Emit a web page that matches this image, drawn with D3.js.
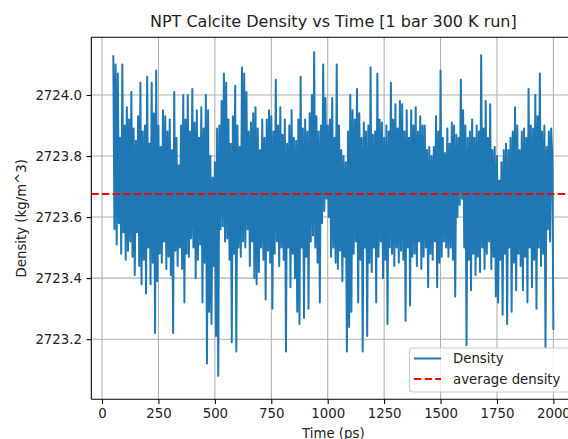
<!DOCTYPE html>
<html>
<head>
<meta charset="utf-8">
<script src="https://cdn.jsdelivr.net/npm/d3@7"></script>
<style>
  body { margin: 0; background: #fff; overflow: hidden; }
  svg { display: block; font-family: "DejaVu Sans", sans-serif; }
</style>
</head>
<body>
<div id="main"></div>
<script>
// time axis: one sample every 5 ps, starting at 50 ps
var tStart = 50
var tStep = 5

// density samples (kg/m^3)
var density = [
2724.13,2723.56,2724.10,2723.51,2724.07,2723.58,2723.86,2723.48,2724.10,2723.55,
2723.90,2723.46,2723.96,2723.49,2723.92,2723.52,2724.01,2723.47,2723.89,2723.41,
2723.85,2723.55,2723.93,2723.44,2724.04,2723.38,2723.88,2723.46,2723.90,2723.35,
2724.06,2723.50,2723.84,2723.38,2724.04,2723.45,2723.94,2723.22,2724.08,2723.39,
2723.90,2723.48,2723.83,2723.45,2723.95,2723.52,2723.93,2723.43,2723.88,2723.47,
2723.92,2723.41,2723.82,2723.22,2724.01,2723.49,2723.86,2723.44,2723.77,2723.50,
2723.90,2723.43,2724.00,2723.32,2723.92,2723.48,2724.00,2723.47,2723.88,2723.53,
2724.02,2723.50,2723.91,2723.40,2723.95,2723.46,2723.86,2723.51,2723.96,2723.32,
2723.89,2723.45,2724.00,2723.12,2723.95,2723.29,2723.80,2723.25,2723.73,2723.44,
2723.78,2723.21,2723.89,2723.08,2723.90,2723.56,2723.98,2723.57,2724.07,2723.52,
2724.04,2723.53,2723.92,2723.46,2723.84,2723.19,2723.93,2723.48,2724.03,2723.16,
2723.90,2723.50,2723.83,2723.47,2724.09,2723.52,2724.07,2723.50,2724.01,2723.56,
2723.88,2723.44,2723.91,2723.52,2723.94,2723.40,2723.96,2723.38,2723.89,2723.42,
2723.82,2723.50,2723.92,2723.46,2723.86,2723.33,2723.92,2723.49,2723.95,2723.45,
2723.93,2723.30,2723.88,2723.48,2724.05,2723.52,2723.90,2723.44,2723.96,2723.50,
2723.87,2723.46,2723.92,2723.16,2723.84,2723.50,2723.90,2723.37,2723.95,2723.48,
2723.86,2723.40,2723.85,2723.29,2723.92,2723.25,2724.06,2723.50,2723.89,2723.27,
2723.92,2723.47,2723.88,2723.30,2723.94,2723.52,2724.00,2723.54,2724.14,2723.50,
2723.93,2723.45,2723.88,2723.32,2723.90,2723.58,2724.10,2723.62,2723.99,2723.66,
2723.90,2723.60,2723.92,2723.47,2723.99,2723.50,2723.86,2723.45,2724.10,2723.43,
2723.90,2723.49,2723.82,2723.39,2723.80,2723.47,2723.78,2723.16,2723.88,2723.24,
2724.00,2723.29,2723.95,2723.48,2723.92,2723.52,2724.02,2723.32,2723.94,2723.46,
2723.86,2723.16,2723.91,2723.50,2723.88,2723.21,2723.90,2723.45,2724.09,2723.42,
2723.87,2723.50,2723.88,2723.32,2724.07,2723.47,2723.92,2723.52,2723.91,2723.40,
2723.86,2723.46,2723.90,2723.25,2723.88,2723.50,2724.04,2723.48,2723.92,2723.44,
2723.97,2723.50,2723.89,2723.45,2723.98,2723.49,2723.97,2723.46,2723.88,2723.26,
2723.95,2723.50,2723.86,2723.31,2723.95,2723.47,2723.90,2723.48,2723.96,2723.44,
2723.88,2723.52,2723.93,2723.43,2723.90,2723.47,2723.90,2723.50,2723.82,2723.37,
2723.83,2723.48,2723.80,2723.46,2723.83,2723.52,2723.93,2723.37,2723.88,2723.45,
2724.08,2723.47,2723.86,2723.52,2723.81,2723.50,2723.89,2723.47,2723.84,2723.50,
2723.91,2723.46,2723.90,2723.34,2723.87,2723.60,2723.86,2723.64,2724.05,2723.66,
2723.95,2723.50,2723.90,2723.18,2723.86,2723.46,2723.88,2723.36,2723.92,2723.48,
2723.86,2723.41,2723.90,2723.47,2723.88,2723.42,2724.13,2723.50,2723.89,2723.43,
2723.98,2723.48,2723.86,2723.52,2723.97,2723.43,2723.82,2723.47,2723.83,2723.34,
2723.80,2723.32,2723.72,2723.46,2723.78,2723.28,2723.82,2723.48,2723.84,2723.25,
2723.82,2723.50,2723.86,2723.29,2723.88,2723.45,2723.96,2723.36,2723.90,2723.48,
2723.82,2723.44,2723.88,2723.36,2723.89,2723.47,2723.86,2723.32,2724.02,2723.50,
2723.90,2723.37,2723.89,2723.46,2724.00,2723.30,2723.93,2723.50,2724.07,2723.44,
2723.88,2723.48,2723.90,2723.17,2723.83,2723.56,2723.88,2723.52,2723.89,2723.80,
2723.23
]
var avgDensity = 2723.676

var xTicks = [0, 250, 500, 750, 1000, 1250, 1500, 1750, 2000]
var yTicks = [2723.2, 2723.4, 2723.6, 2723.8, 2724.0]

var series = density.map((d, i) => ({ t: tStart + i * tStep, v: d }))

var W = 568, H = 439
var pL = 91.3, pR = 575.4, pT = 37.3, pB = 399.3

var svg = d3.select("#main").append("svg").attr("width", W).attr("height", H)

var x = d3.scaleLinear().domain([-47.5, 2097.5]).range([pL, pR])
var y = d3.scaleLinear().domain([2723.003, 2724.189]).range([pB, pT])

var clip = svg.append("clipPath").attr("id", "plot-clip")
clip.append("rect").attr("x", pL).attr("y", pT).attr("width", pR - pL).attr("height", pB - pT)

// grid
svg.append("g").selectAll("line").data(xTicks).enter().append("line")
  .attr("x1", d => x(d)).attr("x2", d => x(d)).attr("y1", pT).attr("y2", pB)
  .attr("stroke", "#b0b0b0").attr("stroke-width", 1.07)
svg.append("g").selectAll("line").data(yTicks).enter().append("line")
  .attr("x1", pL).attr("x2", pR).attr("y1", d => y(d)).attr("y2", d => y(d))
  .attr("stroke", "#b0b0b0").attr("stroke-width", 1.07)

var plot = svg.append("g").attr("clip-path", "url(#plot-clip)")

var line = d3.line().x(d => x(d.t)).y(d => y(d.v))
plot.append("path").datum(series)
  .attr("d", line)
  .attr("fill", "none").attr("stroke", "#1f77b4").attr("stroke-width", 2)
  .attr("stroke-linejoin", "round")

plot.append("line")
  .attr("x1", pL).attr("x2", pR).attr("y1", y(avgDensity)).attr("y2", y(avgDensity))
  .attr("stroke", "#ff0000").attr("stroke-width", 2).attr("stroke-dasharray", "7.4,3.2")

// axes
var xAxis = d3.axisBottom(x).tickValues(xTicks).tickSize(4.7).tickPadding(4.7).tickFormat(d3.format("d"))
var gx = svg.append("g").attr("transform", `translate(0,${pB})`).call(xAxis)
var yAxis = d3.axisLeft(y).tickValues(yTicks).tickSize(4.7).tickPadding(4.7).tickFormat(d3.format(".1f"))
var gy = svg.append("g").attr("transform", `translate(${pL},0)`).call(yAxis)
;[gx, gy].forEach(g => {
  g.select(".domain").remove()
  g.selectAll("line").attr("stroke", "#000").attr("stroke-width", 1.07)
  g.selectAll("text").attr("font-size", "13.3px").attr("fill", "#222").attr("font-family", "DejaVu Sans")
})

// spines
svg.append("line").attr("x1", pL).attr("x2", pL).attr("y1", pT).attr("y2", pB).attr("stroke", "#000").attr("stroke-width", 1.07)
svg.append("line").attr("x1", pL).attr("x2", pR).attr("y1", pB).attr("y2", pB).attr("stroke", "#000").attr("stroke-width", 1.07)
svg.append("line").attr("x1", pL).attr("x2", pR).attr("y1", pT).attr("y2", pT).attr("stroke", "#000").attr("stroke-width", 1.07)

// labels
svg.append("text").attr("x", (pL + pR) / 2).attr("y", 27).attr("text-anchor", "middle")
  .attr("font-size", "16px").attr("fill", "#222").text("NPT Calcite Density vs Time [1 bar 300 K run]")
svg.append("text").attr("x", (pL + pR) / 2).attr("y", 437.5).attr("text-anchor", "middle")
  .attr("font-size", "13.3px").attr("fill", "#222").text("Time (ps)")
svg.append("text").attr("transform", `translate(25.5,${(pT + pB) / 2}) rotate(-90)`).attr("text-anchor", "middle")
  .attr("font-size", "13.3px").attr("fill", "#222").text("Density (kg/m^3)")

// legend
var lg = svg.append("g")
lg.append("rect").attr("x", 409.5).attr("y", 348).attr("width", 162).attr("height", 44).attr("rx", 3)
  .attr("fill", "#fff").attr("fill-opacity", 0.8).attr("stroke", "#cccccc").attr("stroke-width", 1.07)
var legendItems = [
  { label: "Density", color: "#1f77b4", dash: null },
  { label: "average density", color: "#ff0000", dash: "7.4,3.2" }
]
legendItems.forEach((it, i) => {
  var yy = 358.5 + i * 20.5
  lg.append("line").attr("x1", 414).attr("x2", 441).attr("y1", yy).attr("y2", yy)
    .attr("stroke", it.color).attr("stroke-width", 2).attr("stroke-dasharray", it.dash)
  lg.append("text").attr("x", 453).attr("y", yy + 4.8).attr("font-size", "13.3px").attr("fill", "#222").text(it.label)
})
</script>
</body>
</html>
